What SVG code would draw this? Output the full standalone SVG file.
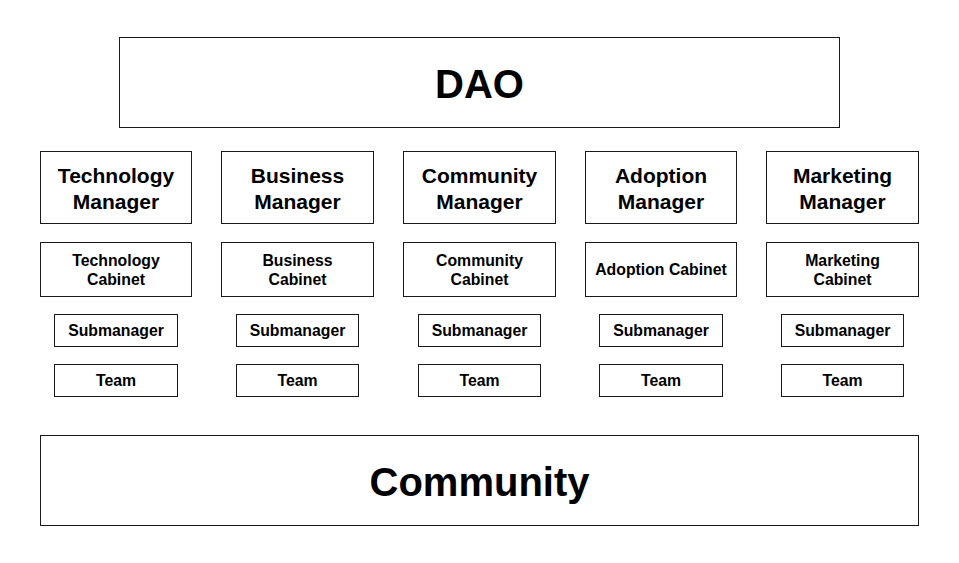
<svg xmlns="http://www.w3.org/2000/svg" width="959" height="563" viewBox="0 0 959 563">
<style>
rect{fill:#fff;stroke:#1a1a1a;stroke-width:1}
text{font-family:"Liberation Sans",Arial,sans-serif;font-weight:bold;fill:#000;text-anchor:middle}
.big{font-size:40px}
.mgr{font-size:21px}
.sm{font-size:15.8px}
</style>
<rect x="0" y="0" width="959" height="563" style="stroke:none"/>
<g id="dao"><rect x="119.5" y="37.5" width="720" height="90"/><text class="big" x="479.5" y="98">DAO</text></g>
<g id="community"><rect x="40.5" y="435.5" width="878" height="90"/><text class="big" x="479.5" y="496">Community</text></g>

<g id="tech-manager"><rect x="40.5" y="151.5" width="151" height="72"/><text class="mgr" x="116" y="183">Technology</text><text class="mgr" x="116" y="209">Manager</text></g>
<g id="business-manager"><rect x="221.5" y="151.5" width="152" height="72"/><text class="mgr" x="297.5" y="183">Business</text><text class="mgr" x="297.5" y="209">Manager</text></g>
<g id="community-manager"><rect x="403.5" y="151.5" width="152" height="72"/><text class="mgr" x="479.5" y="183">Community</text><text class="mgr" x="479.5" y="209">Manager</text></g>
<g id="adoption-manager"><rect x="585.5" y="151.5" width="151" height="72"/><text class="mgr" x="661" y="183">Adoption</text><text class="mgr" x="661" y="209">Manager</text></g>
<g id="marketing-manager"><rect x="766.5" y="151.5" width="152" height="72"/><text class="mgr" x="842.5" y="183">Marketing</text><text class="mgr" x="842.5" y="209">Manager</text></g>

<g id="tech-cabinet"><rect x="40.5" y="242.5" width="151" height="54"/><text class="sm" x="116" y="266">Technology</text><text class="sm" x="116" y="284.5">Cabinet</text></g>
<g id="business-cabinet"><rect x="221.5" y="242.5" width="152" height="54"/><text class="sm" x="297.5" y="266">Business</text><text class="sm" x="297.5" y="284.5">Cabinet</text></g>
<g id="community-cabinet"><rect x="403.5" y="242.5" width="152" height="54"/><text class="sm" x="479.5" y="266">Community</text><text class="sm" x="479.5" y="284.5">Cabinet</text></g>
<g id="adoption-cabinet"><rect x="585.5" y="242.5" width="151" height="54"/><text class="sm" x="661" y="275">Adoption Cabinet</text></g>
<g id="marketing-cabinet"><rect x="766.5" y="242.5" width="152" height="54"/><text class="sm" x="842.5" y="266">Marketing</text><text class="sm" x="842.5" y="284.5">Cabinet</text></g>

<g id="tech-sub"><rect x="54.5" y="314.5" width="123" height="32"/><text class="sm" x="116" y="336">Submanager</text></g>
<g id="business-sub"><rect x="236.5" y="314.5" width="122" height="32"/><text class="sm" x="297.5" y="336">Submanager</text></g>
<g id="community-sub"><rect x="418.5" y="314.5" width="122" height="32"/><text class="sm" x="479.5" y="336">Submanager</text></g>
<g id="adoption-sub"><rect x="599.5" y="314.5" width="123" height="32"/><text class="sm" x="661" y="336">Submanager</text></g>
<g id="marketing-sub"><rect x="781.5" y="314.5" width="122" height="32"/><text class="sm" x="842.5" y="336">Submanager</text></g>

<g id="tech-team"><rect x="54.5" y="364.5" width="123" height="32"/><text class="sm" x="116" y="386">Team</text></g>
<g id="business-team"><rect x="236.5" y="364.5" width="122" height="32"/><text class="sm" x="297.5" y="386">Team</text></g>
<g id="community-team"><rect x="418.5" y="364.5" width="122" height="32"/><text class="sm" x="479.5" y="386">Team</text></g>
<g id="adoption-team"><rect x="599.5" y="364.5" width="123" height="32"/><text class="sm" x="661" y="386">Team</text></g>
<g id="marketing-team"><rect x="781.5" y="364.5" width="122" height="32"/><text class="sm" x="842.5" y="386">Team</text></g>

<g id="connectors"></g>
</svg>
